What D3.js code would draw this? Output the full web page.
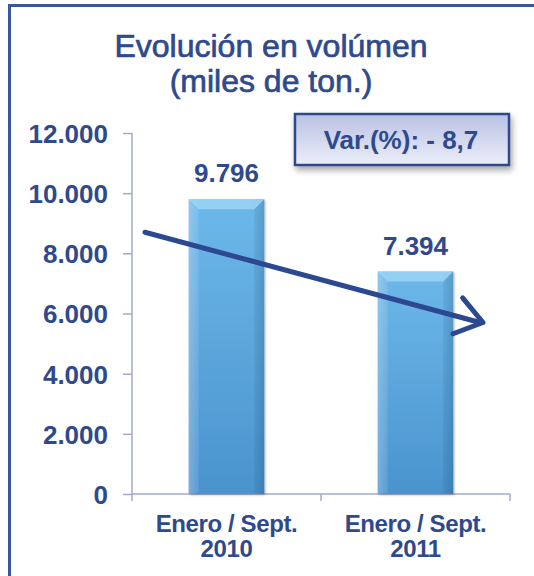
<!DOCTYPE html>
<html>
<head>
<meta charset="utf-8">
<script src="https://cdn.jsdelivr.net/npm/d3@7"></script>
<style>
  html, body { margin: 0; padding: 0; background: #fff; }
  svg { display: block; }
  text { font-family: "Liberation Sans", Arial, sans-serif; }
</style>
</head>
<body>
<svg id="chart" width="534" height="576"></svg>
<script>
// ---- data ----
const categories = ["Enero / Sept.|2010", "Enero / Sept.|2011"];
const values = [9796, 7394];
const valueLabels = ["9.796", "7.394"];
const yTicks = [0, 2000, 4000, 6000, 8000, 10000, 12000];
const yTickLabels = ["0", "2.000", "4.000", "6.000", "8.000", "10.000", "12.000"];
const titleLines = ["Evolución en volúmen", "(miles de ton.)"];
const varText = "Var.(%): - 8,7";
const trendValues = [8700, 5700];

const navy = "#2E4A8C";
const svg = d3.select("#chart");

// frame
svg.append("path")
  .attr("d", "M9.5,576 L9.5,5.5 L534,5.5")
  .attr("fill", "none").attr("stroke", "#3A56A0").attr("stroke-width", 3);

const defs = svg.append("defs");
const g1 = defs.append("linearGradient").attr("id", "barGrad").attr("x1", 0).attr("x2", 0).attr("y1", 0).attr("y2", 1);
g1.append("stop").attr("offset", "0%").attr("stop-color", "#6DB8EA");
g1.append("stop").attr("offset", "100%").attr("stop-color", "#4A93CE");
const g2 = defs.append("linearGradient").attr("id", "sideGrad").attr("x1", 0).attr("x2", 1);
g2.append("stop").attr("offset", "0%").attr("stop-color", "#ffffff").attr("stop-opacity", 0.18);
g2.append("stop").attr("offset", "15%").attr("stop-color", "#ffffff").attr("stop-opacity", 0);
g2.append("stop").attr("offset", "85%").attr("stop-color", "#000000").attr("stop-opacity", 0);
g2.append("stop").attr("offset", "100%").attr("stop-color", "#000000").attr("stop-opacity", 0.12);
const g3 = defs.append("linearGradient").attr("id", "boxGrad").attr("x1", 0).attr("x2", 0).attr("y1", 0).attr("y2", 1);
g3.append("stop").attr("offset", "0%").attr("stop-color", "#B9C1E4");
g3.append("stop").attr("offset", "100%").attr("stop-color", "#ECEEF9");
const f = defs.append("filter").attr("id", "shadow").attr("x", "-20%").attr("y", "-30%").attr("width", "140%").attr("height", "170%");
f.append("feDropShadow").attr("dx", 2).attr("dy", 4).attr("stdDeviation", 3).attr("flood-color", "#000").attr("flood-opacity", 0.35);
const fb = defs.append("filter").attr("id", "barShadow").attr("x", "-20%").attr("y", "-10%").attr("width", "140%").attr("height", "120%");
fb.append("feDropShadow").attr("dx", 1).attr("dy", 1).attr("stdDeviation", 1.2).attr("flood-color", "#000").attr("flood-opacity", 0.3);

// title
svg.append("text")
  .attr("x", 271).attr("y", 57)
  .attr("text-anchor", "middle")
  .attr("font-size", 32).attr("fill", navy)
  .attr("stroke", navy).attr("stroke-width", 0.7)
  .selectAll("tspan").data(titleLines).join("tspan")
  .attr("x", 271).attr("dy", (d, i) => i === 0 ? 0 : 35)
  .text(d => d);

// scales
const x = d3.scaleBand().domain(categories).range([132, 510]).paddingInner(0.6).paddingOuter(0.3);
const y = d3.scaleLinear().domain([0, 12000]).range([494, 133]);

// y axis
const yAxis = svg.append("g").attr("transform", "translate(132,0)")
  .call(d3.axisLeft(y).tickValues(yTicks).tickSize(9).tickFormat((d, i) => yTickLabels[i]));
yAxis.select(".domain").attr("stroke", "#A3AACC").attr("stroke-width", 1.5).attr("d", "M0,133V494");
yAxis.selectAll(".tick line").attr("stroke", "#A3AACC").attr("stroke-width", 1.5);
yAxis.selectAll(".tick text")
  .attr("x", -24).attr("dy", "0.36em")
  .attr("font-size", 26).attr("font-weight", "bold").attr("fill", navy)
  .attr("font-family", "'Liberation Sans', Arial, sans-serif");

// x axis
const xAxis = svg.append("g").attr("transform", "translate(0,494)");
xAxis.append("line").attr("x1", 132).attr("x2", 510).attr("stroke", "#A3AACC").attr("stroke-width", 1.5);
const bounds = [132, 132 + (510 - 132) / 2, 510];
xAxis.selectAll("line.tk").data(bounds).join("line").attr("class", "tk")
  .attr("x1", d => d).attr("x2", d => d).attr("y1", 0).attr("y2", 7)
  .attr("stroke", "#A3AACC").attr("stroke-width", 1.5);

// bars
const bars = svg.append("g").selectAll("g.bar").data(values).join("g").attr("class", "bar");
bars.append("rect")
  .attr("x", (d, i) => x(categories[i]))
  .attr("y", d => y(d))
  .attr("width", x.bandwidth())
  .attr("height", d => y(0) - y(d))
  .attr("fill", "url(#barGrad)")
  .attr("filter", "url(#barShadow)");
bars.append("rect")
  .attr("x", (d, i) => x(categories[i]))
  .attr("y", d => y(d))
  .attr("width", x.bandwidth())
  .attr("height", d => y(0) - y(d))
  .attr("fill", "url(#sideGrad)");
// bevel on top
bars.append("path")
  .attr("d", (d, i) => {
    const x0 = x(categories[i]), x1 = x0 + x.bandwidth(), t = y(d), b = 10;
    return `M${x0},${t}L${x1},${t}L${x1 - b},${t + b}L${x0 + b},${t + b}Z`;
  })
  .attr("fill", "#9FD6F6").attr("opacity", 0.8);
bars.append("path")
  .attr("d", (d, i) => {
    const x0 = x(categories[i]), t = y(d), b = 10;
    return `M${x0},${t}L${x0 + b},${t + b}L${x0 + b},${y(0) - 2}L${x0},${y(0)}Z`;
  })
  .attr("fill", "#ffffff").attr("opacity", 0.08);
bars.append("path")
  .attr("d", (d, i) => {
    const x0 = x(categories[i]), x1 = x0 + x.bandwidth(), t = y(d), b = 10;
    return `M${x1},${t}L${x1 - b},${t + b}L${x1 - b},${y(0) - 2}L${x1},${y(0)}Z`;
  })
  .attr("fill", "#1E5A90").attr("opacity", 0.08);

// value labels
svg.append("g").selectAll("text").data(values).join("text")
  .attr("x", (d, i) => x(categories[i]) + x.bandwidth() / 2)
  .attr("y", d => y(d) - 17)
  .attr("text-anchor", "middle")
  .attr("font-size", 26).attr("font-weight", "bold").attr("fill", navy)
  .text((d, i) => valueLabels[i]);

// category labels
const cl = svg.append("g").selectAll("text").data(categories).join("text")
  .attr("text-anchor", "middle")
  .attr("font-size", 24).attr("font-weight", "bold").attr("fill", navy)
  .attr("letter-spacing", -0.4);
cl.selectAll("tspan").data((d, i) => d.split("|").map(s => ({ s, c: categories[i] }))).join("tspan")
  .attr("x", d => x(d.c) + x.bandwidth() / 2)
  .attr("y", (d, j) => 532 + j * 25)
  .text(d => d.s);

// trend arrow
const ax0 = 145, ax1 = 483;
const ay0 = y(trendValues[0]), ay1 = y(trendValues[1]);
const arrow = svg.append("g").attr("stroke", "#2B4891").attr("stroke-width", 5).attr("fill", "none")
  .attr("stroke-linecap", "round").attr("stroke-linejoin", "round");
arrow.append("line").attr("x1", ax0).attr("y1", ay0).attr("x2", ax1 - 3).attr("y2", ay1);
const ang = Math.atan2(ay1 - ay0, ax1 - ax0);
const hl = 32, ha = 0.62;
const p1 = [ax1 - hl * Math.cos(ang - ha), ay1 - hl * Math.sin(ang - ha)];
const p2 = [ax1 - hl * Math.cos(ang + ha), ay1 - hl * Math.sin(ang + ha)];
arrow.append("path").attr("d", `M${p1[0]},${p1[1]}L${ax1},${ay1}L${p2[0]},${p2[1]}`);

// variation box
const box = svg.append("g");
box.append("rect").attr("x", 295).attr("y", 114).attr("width", 214).attr("height", 51)
  .attr("fill", "url(#boxGrad)").attr("stroke", "#2E4A8C").attr("stroke-width", 2.5)
  .attr("filter", "url(#shadow)");
box.append("text").attr("x", 401).attr("y", 149).attr("text-anchor", "middle")
  .attr("font-size", 26).attr("font-weight", "bold").attr("fill", navy)
  .text(varText);
</script>
</body>
</html>
